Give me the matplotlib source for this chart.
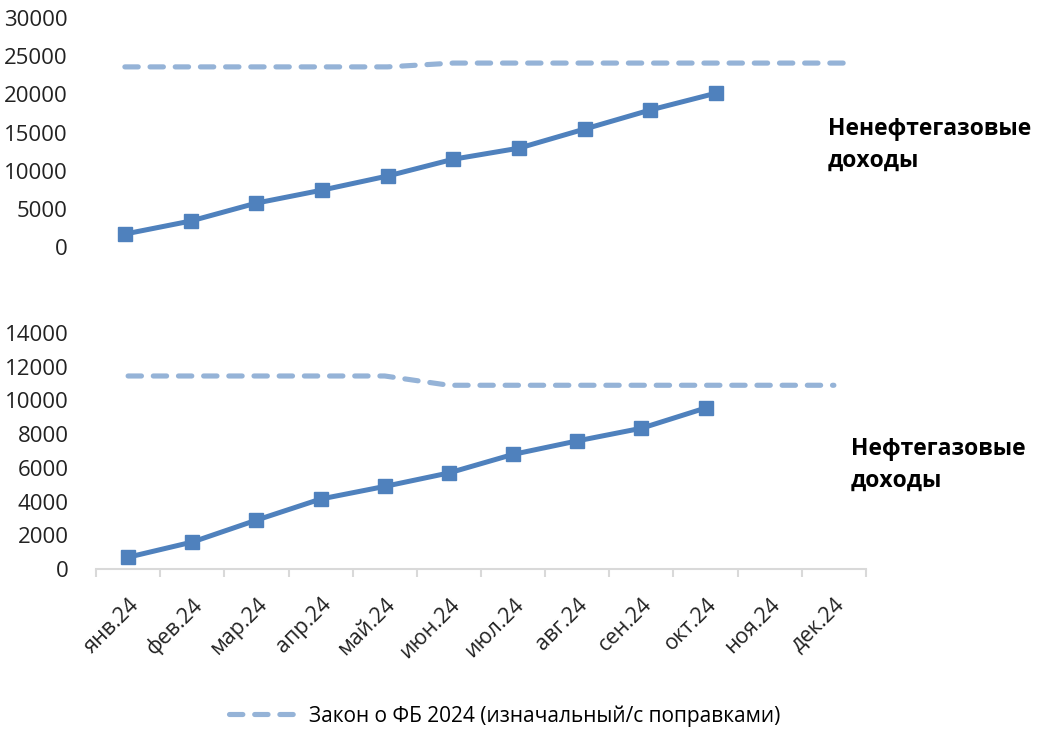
import numpy as np
import matplotlib.pyplot as plt
from matplotlib.lines import Line2D

plt.rcParams['font.family'] = ['Open Sans', 'DejaVu Sans']

months = ['янв.24', 'фев.24', 'мар.24', 'апр.24', 'май.24', 'июн.24',
          'июл.24', 'авг.24', 'сен.24', 'окт.24', 'ноя.24', 'дек.24']

# ненефтегазовые доходы, млрд руб. (накопленным итогом)
non_oil_fact = [1700, 3400, 5750, 7450, 9300, 11500, 12950, 15450, 17950, 20150]
non_oil_law = [23600, 23600, 23600, 23600, 23600, 24100, 24100, 24100, 24100, 24100, 24100, 24100]

# нефтегазовые доходы
oil_fact = [700, 1600, 2900, 4150, 4900, 5700, 6800, 7600, 8350, 9550]
oil_law = [11450, 11450, 11450, 11450, 11450, 10900, 10900, 10900, 10900, 10900, 10900, 10900]

legend_label = 'Закон о ФБ 2024 (изначальный/с поправками)'

solid_c = '#4F81BD'
dash_c = '#95B3D7'

fig = plt.figure(figsize=(10.47, 7.33), dpi=100)
ax1 = fig.add_axes([0.0879, 0.663, 0.7526, 0.3124])
ax2 = fig.add_axes([0.0917, 0.2237, 0.7354, 0.322])

x = np.arange(len(months))


def draw(ax, fact, law):
    ln, = ax.plot(x[:len(law)], law, color=dash_c, lw=3.7, dashes=(2.6, 2.3),
                  dash_capstyle='round', zorder=2)
    ax.plot(x[:len(fact)], fact, color=solid_c, lw=3.6, marker='s', ms=9.5,
            zorder=3)
    ax.set_xlim(-0.5, 11.5)
    for s in ['top', 'right', 'left']:
        ax.spines[s].set_visible(False)
    ax.tick_params(axis='y', left=False, labelsize=16, colors='#222222')
    return ln


draw(ax1, non_oil_fact, non_oil_law)
ax1.set_ylim(0, 30000)
ax1.set_yticks(np.arange(0, 30001, 5000))
ax1.tick_params(axis='y', pad=14)
ax1.spines['bottom'].set_visible(False)
ax1.set_xticks([])

line = draw(ax2, oil_fact, oil_law)
ax2.set_ylim(0, 14000)
ax2.set_yticks(np.arange(0, 14001, 2000))
ax2.tick_params(axis='y', pad=16)
ax2.spines['bottom'].set_color('#D9D9D9')
ax2.spines['bottom'].set_linewidth(1.5)
ax2.set_xticks(x)
ax2.set_xticklabels(months, rotation=45, ha='right', va='top',
                    rotation_mode='anchor', fontsize=15.5, color='#222222')
ax2.set_xticks(np.arange(-0.5, 12, 1), minor=True)
ax2.tick_params(axis='x', which='major', length=0, pad=18)
ax2.tick_params(axis='x', which='minor', length=6, width=1.5, color='#D9D9D9')

fig.text(828 / 1047, 1 - 145 / 733, 'Ненефтегазовые\nдоходы', fontsize=16.5,
         fontweight='bold', va='center', ha='left', linespacing=1.45)
fig.text(851 / 1047, 1 - 465 / 733, 'Нефтегазовые\nдоходы', fontsize=16.5,
         fontweight='bold', va='center', ha='left', linespacing=1.45)

fig.legend(handles=[line], labels=[legend_label], loc='center',
           bbox_to_anchor=(0.482, 1 - 716 / 733), frameon=False, fontsize=15,
           handlelength=3.3, handletextpad=0.5)

fig.savefig('out.png', dpi=100)
